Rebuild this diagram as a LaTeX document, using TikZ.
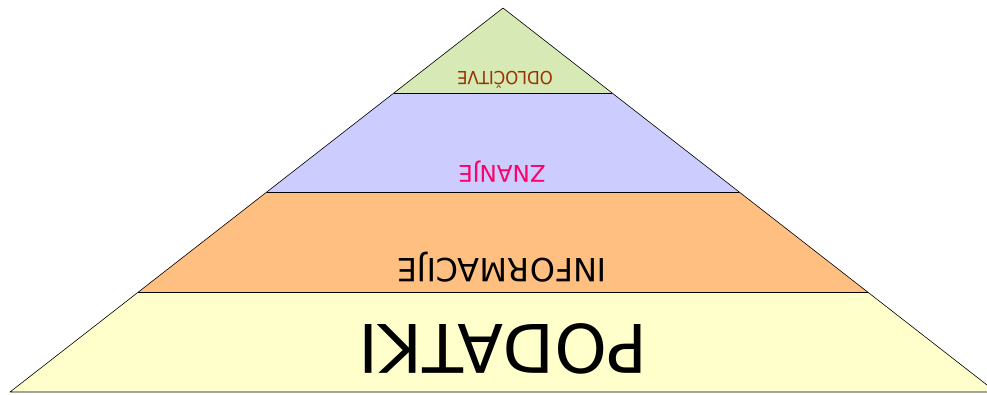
\documentclass[tikz,border=0pt]{standalone}
\usepackage{fontspec}
\setmainfont{DejaVu Sans}
\usetikzlibrary{calc}

\definecolor{lvlgreen}{HTML}{D7E9B5}
\definecolor{lvlblue}{HTML}{CCCCFF}
\definecolor{lvlorange}{HTML}{FFBF80}
\definecolor{lvlyellow}{HTML}{FFFFCC}
\definecolor{txtbrown}{HTML}{993300}
\definecolor{txtpink}{HTML}{FF0066}

\begin{document}
\begin{tikzpicture}[
    x=1pt, y=-1pt,
    layer/.style={draw=black, line width=0.6pt, line join=round},
    turned/.style={rotate=180, inner sep=0pt, anchor=center}
]
    % Canvas
    \useasboundingbox (0, 0) rectangle (987, 394);
    \clip (0, 0) rectangle (987, 394);
    % - [Corners of the pyramid]
    \coordinate (apex) at (503, 8);
    \coordinate (base_l) at (10, 392);
    \coordinate (base_r) at (996, 392);
    % -- Level boundaries on the sides
    \coordinate (l1) at ($(apex)!0.2214!(base_l)$);
    \coordinate (r1) at ($(apex)!0.2214!(base_r)$);
    \coordinate (l2) at ($(apex)!0.4792!(base_l)$);
    \coordinate (r2) at ($(apex)!0.4792!(base_r)$);
    \coordinate (l3) at ($(apex)!0.7396!(base_l)$);
    \coordinate (r3) at ($(apex)!0.7396!(base_r)$);

    % Levels
    \fill [lvlyellow] (l3) -- (r3) -- (base_r) -- (base_l) -- cycle;
    \fill [lvlorange] (l2) -- (r2) -- (r3) -- (l3) -- cycle;
    \fill [lvlblue] (l1) -- (r1) -- (r2) -- (l2) -- cycle;
    \fill [lvlgreen] (apex) -- (r1) -- (l1) -- cycle;
    % - [Outline and separators]
    \draw [layer] (apex) -- (base_r) -- (base_l) -- cycle;
    \draw [layer] (l1) -- (r1) (l2) -- (r2) (l3) -- (r3);

    % Labels (turned upside down)
    \node at (503, 349) [turned, font=\fontsize{67}{67}\selectfont] (podatki) {PODATKI};
    \node at (502, 267) [turned, font=\fontsize{32}{32}\selectfont] (informacije) {INFORMACIJE};
    \node at (502, 171.5) [turned, text=txtpink, font=\fontsize{23}{23}\selectfont] (znanje) {ZNANJE};
    \node at (505, 80) [turned, text=txtbrown, xscale=0.92, font=\fontsize{18}{18}\selectfont] (odlocitve) {ODLOČITVE};

\end{tikzpicture}
\end{document}
